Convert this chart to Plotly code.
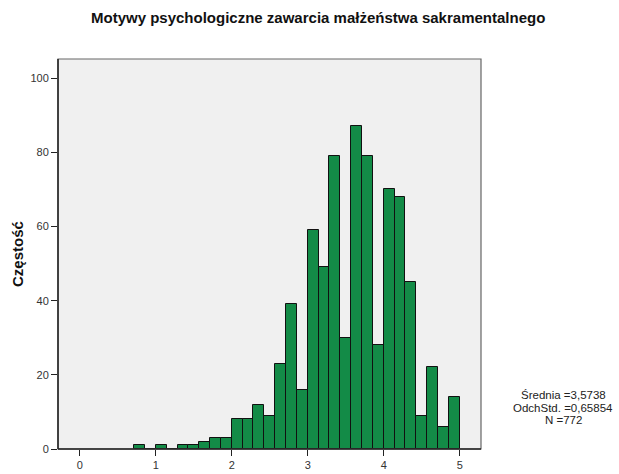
import plotly.graph_objects as go

# Histogram bins are 1/7 wide, starting at 5/7 and ending at 5
bin_width = 1 / 7
first_bin_start = 5 / 7
counts = [1, 0, 1, 0, 1, 1, 2, 3, 3, 8, 8, 12, 9, 23, 39, 16,
          59, 49, 79, 30, 87, 79, 28, 70, 68, 45, 9, 22, 6, 14]

x_ticks = [0, 1, 2, 3, 4, 5]
y_ticks = [0, 20, 40, 60, 80, 100]

title_text = "Motywy psychologiczne zawarcia małżeństwa sakramentalnego"
y_title = "Częstość"
stats_lines = ["Średnia =3,5738", "OdchStd. =0,65854", "N =772"]

centers = [first_bin_start + (i + 0.5) * bin_width for i in range(len(counts))]

FONT = "Liberation Sans, Arial, sans-serif"

fig = go.Figure(
    go.Bar(
        x=centers,
        y=counts,
        width=bin_width,
        marker=dict(color="#138B47", line=dict(color="#111111", width=1)),
        hoverinfo="x+y",
    )
)

W, H = 619, 474
L, R, T, B = 58, 138, 59, 25

fig.update_layout(
    width=W,
    height=H,
    margin=dict(l=L, r=R, t=T, b=B, autoexpand=False),
    paper_bgcolor="white",
    plot_bgcolor="#F0F0F0",
    showlegend=False,
    bargap=0,
    font=dict(family=FONT, size=11, color="#333333"),
    xaxis=dict(
        range=[-0.287, 5.28],
        tickvals=x_ticks,
        ticks="outside",
        ticklen=6,
        tickcolor="#222222",
        showgrid=False,
        zeroline=False,
        showline=False,
        tickfont=dict(size=11, color="#333333"),
        fixedrange=True,
    ),
    yaxis=dict(
        range=[0, 105.2],
        tickvals=y_ticks,
        ticks="outside",
        ticklen=6,
        tickcolor="#222222",
        showgrid=False,
        zeroline=False,
        showline=False,
        tickfont=dict(size=11, color="#333333"),
        fixedrange=True,
    ),
)

# Frame around the plotting area: light on top/right, dark on left/bottom
fig.add_shape(type="rect", xref="paper", yref="paper", x0=0, y0=0, x1=1, y1=1,
              line=dict(color="#666666", width=1.2), layer="above")
fig.add_shape(type="line", xref="paper", yref="paper", x0=0, y0=0, x1=0, y1=1,
              line=dict(color="#222222", width=1.5), layer="above")
fig.add_shape(type="line", xref="paper", yref="paper", x0=0, y0=0, x1=1, y1=0,
              line=dict(color="#222222", width=1.5), layer="above")

pw = W - L - R
ph = H - T - B

# Chart title
fig.add_annotation(
    text=title_text, xref="paper", yref="paper",
    x=(318 - L) / pw, y=(H - B - 18) / ph,
    xanchor="center", yanchor="middle", showarrow=False,
    font=dict(family=FONT, size=15, color="#111111", weight="bold"),
)

# Y axis title
fig.add_annotation(
    text=y_title, xref="paper", yref="paper",
    x=(17 - L) / pw, y=0.5, textangle=-90,
    xanchor="center", yanchor="middle", showarrow=False,
    font=dict(family=FONT, size=15, color="#111111", weight="bold"),
)

# Summary statistics beside the plot
for line, ypix in zip(stats_lines, [395, 407.5, 420]):
    fig.add_annotation(
        text=line, xref="paper", yref="paper",
        x=(563 - L) / pw, y=(H - B - ypix) / ph,
        xanchor="center", yanchor="middle", showarrow=False,
        font=dict(family=FONT, size=11.5, color="#222222"),
    )

fig.write_html("out.html")
